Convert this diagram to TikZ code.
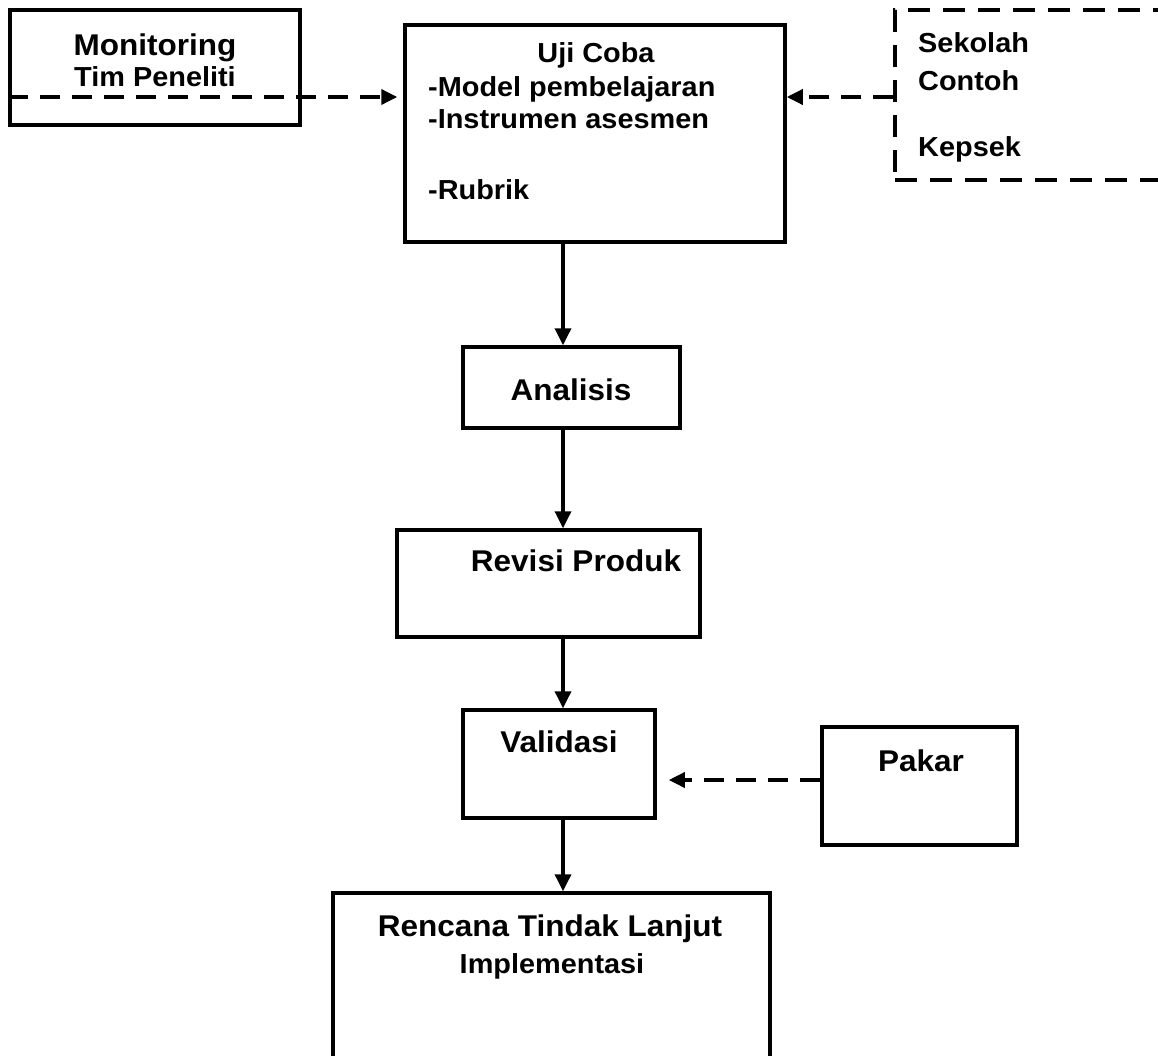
\documentclass[tikz,border=0pt]{standalone}
\usepackage{fontspec}
\setmainfont[FakeStretch=1.05]{Liberation Sans}
\usetikzlibrary{arrows.meta,calc}
\tikzset{
  box/.style={draw, line width=3.5pt, minimum width=#1, inner sep=0pt},
  dbox/.style={draw, line width=3.5pt, dash pattern=on 22pt off 13pt, inner sep=0pt},
  big/.style={font=\fontsize{30}{35}\selectfont\bfseries, inner sep=0pt, anchor=base},
  mid/.style={font=\fontsize{27.5}{32}\selectfont\bfseries, inner sep=0pt, anchor=base},
  midw/.style={mid, anchor=base west},
  solidarrow/.style={line width=3.5pt, -{Triangle[length=17pt,width=16pt]}},
  dasharrow/.style={line width=3.5pt, dash pattern=on 20pt off 12pt, -{Triangle[length=16pt,width=15pt]}},
}
\begin{document}
\begin{tikzpicture}[x=1pt,y=-1pt]
\clip (0,0) rectangle (1158,1055);
% boxes
\node[box=290pt, minimum height=115pt] (mon) at (155,67.5) {};
\node[box=380pt, minimum height=217pt] (uji) at (595,133.5) {};
\node[dbox, minimum width=265pt, minimum height=170pt] (sek) at (1027.5,95) {};
\node[box=217pt, minimum height=81pt] (ana) at (571.5,387.5) {};
\node[box=303pt, minimum height=107pt] (rev) at (548.5,583.5) {};
\node[box=192pt, minimum height=108pt] (val) at (559,764) {};
\node[box=195pt, minimum height=118pt] (pak) at (919.5,786) {};
\node[box=437pt, minimum height=190pt] (ren) at (551.5,988) {};
% texts
\node[big] (t1) at (155,55) {Monitoring};
\node[mid] (t2) at (155,86) {Tim Peneliti};
\node[mid] (t3) at (596,62) {Uji Coba};
\node[midw] (t4) at (428,96) {-Model pembelajaran};
\node[midw] (t5) at (428,128) {-Instrumen asesmen};
\node[midw] (t6) at (428,199) {-Rubrik};
\node[midw] (t7) at (918,52) {Sekolah};
\node[midw] (t8) at (918,90) {Contoh};
\node[midw] (t9) at (918,156) {Kepsek};
\node[big] (t10) at (571,400) {Analisis};
\node[big] (t11) at (576,571) {Revisi Produk};
\node[big] (t12) at (559,752) {Validasi};
\node[big] (t13) at (921,771) {Pakar};
\node[big] (t14) at (550,936) {Rencana Tindak Lanjut};
\node[mid] (t15) at (552,973) {Implementasi};
% connectors
\coordinate (col) at (563,0);
\coordinate (lvl) at (0,97);
\coordinate (plv) at (0,780);
\draw[dasharrow, shorten >=6pt] (mon.west |- lvl) -- (uji.west |- lvl);
\draw[dasharrow] (sek.west |- lvl) -- (uji.east |- lvl);
\draw[solidarrow] (col |- uji.south) -- (col |- ana.north);
\draw[solidarrow] (col |- ana.south) -- (col |- rev.north);
\draw[solidarrow] (col |- rev.south) -- (col |- val.north);
\draw[solidarrow] (col |- val.south) -- (col |- ren.north);
\draw[dasharrow, shorten >=12pt] (pak.west |- plv) -- (val.east |- plv);
\end{tikzpicture}
\end{document}
